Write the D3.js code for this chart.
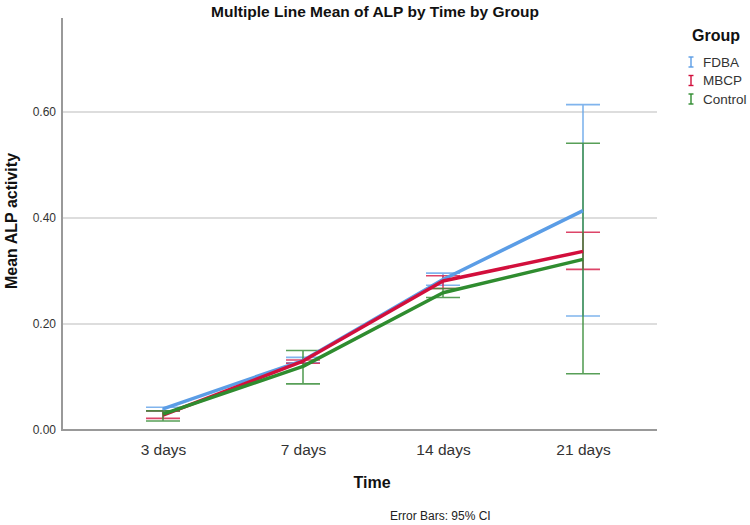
<!DOCTYPE html>
<html>
<head>
<meta charset="utf-8">
<script src="https://cdn.jsdelivr.net/npm/d3@7"></script>
<style>
  html, body { margin: 0; padding: 0; background: #fff; }
  svg { display: block; font-family: "Liberation Sans", Arial, sans-serif; }
</style>
</head>
<body>
<svg id="chart" width="750" height="525"></svg>
<script>
// ---- data ----
const categories = ["3 days", "7 days", "14 days", "21 days"];
const groups = ["FDBA", "MBCP", "Control"];
const meanFDBA    = [0.040, 0.131, 0.284, 0.414];
const meanMBCP    = [0.028, 0.130, 0.281, 0.337];
const meanControl = [0.030, 0.120, 0.259, 0.322];
const lowFDBA     = [0.036, 0.127, 0.273, 0.215];
const highFDBA    = [0.043, 0.137, 0.296, 0.614];
const lowMBCP     = [0.022, 0.126, 0.267, 0.303];
const highMBCP    = [0.036, 0.132, 0.291, 0.373];
const lowControl  = [0.017, 0.087, 0.250, 0.106];
const highControl = [0.036, 0.150, 0.267, 0.541];
const yTicks = [0, 0.2, 0.4, 0.6];

const colors = { FDBA: "#5b9de6", MBCP: "#d20f3c", Control: "#2f8c2f" };
const barColors = { FDBA: "#6aa8ea", MBCP: "#d8244e", Control: "#3b8f3b" };

const series = [
  { name: "FDBA", mean: meanFDBA, low: lowFDBA, high: highFDBA },
  { name: "MBCP", mean: meanMBCP, low: lowMBCP, high: highMBCP },
  { name: "Control", mean: meanControl, low: lowControl, high: highControl }
];

const svg = d3.select("#chart");
const plotLeft = 62, plotRight = 657, plotTop = 18, plotBottom = 430;

const x = d3.scalePoint().domain(categories).range([163, 583]);
const y = d3.scaleLinear().domain([0, 0.7774]).range([plotBottom, plotTop]);

// gridlines
svg.append("g").selectAll("line").data(yTicks.filter(d => d > 0)).join("line")
  .attr("x1", plotLeft).attr("x2", plotRight)
  .attr("y1", d => y(d)).attr("y2", d => y(d))
  .attr("stroke", "#d2d2d2").attr("stroke-width", 1.5);

// y axis
const yAxis = d3.axisLeft(y).tickValues(yTicks).tickFormat(d3.format(".2f")).tickSize(0).tickPadding(6);
const gy = svg.append("g").attr("transform", `translate(${plotLeft},0)`).call(yAxis);
gy.select(".domain").remove();
gy.selectAll("text").attr("font-size", 12).attr("fill", "#333")
  .attr("font-family", "Liberation Sans, Arial, sans-serif");
svg.append("line").attr("x1", plotLeft).attr("x2", plotLeft)
  .attr("y1", plotTop).attr("y2", plotBottom + 1)
  .attr("stroke", "#999").attr("stroke-width", 2);

// x axis
const xAxis = d3.axisBottom(x).tickSize(0).tickPadding(14);
const gx = svg.append("g").attr("transform", `translate(0,${plotBottom})`).call(xAxis);
gx.select(".domain").remove();
gx.selectAll("text").attr("font-size", 15.5).attr("fill", "#333")
  .attr("font-family", "Liberation Sans, Arial, sans-serif");
svg.append("line").attr("x1", plotLeft - 1).attr("x2", plotRight)
  .attr("y1", plotBottom).attr("y2", plotBottom)
  .attr("stroke", "#999").attr("stroke-width", 2);

// error bars
const capHalf = 17;
series.forEach(s => {
  const g = svg.append("g").attr("stroke", barColors[s.name]).attr("stroke-width", 1.6).attr("opacity", 0.85);
  categories.forEach((c, i) => {
    const cx = x(c);
    g.append("line").attr("x1", cx).attr("x2", cx).attr("y1", y(s.low[i])).attr("y2", y(s.high[i]));
    g.append("line").attr("x1", cx - capHalf).attr("x2", cx + capHalf).attr("y1", y(s.low[i])).attr("y2", y(s.low[i]));
    g.append("line").attr("x1", cx - capHalf).attr("x2", cx + capHalf).attr("y1", y(s.high[i])).attr("y2", y(s.high[i]));
  });
});

// mean lines
const line = d3.line().x((d, i) => x(categories[i])).y(d => y(d));
series.forEach(s => {
  svg.append("path").datum(s.mean).attr("d", line)
    .attr("fill", "none").attr("stroke", colors[s.name])
    .attr("stroke-width", 3.5).attr("stroke-linejoin", "round");
});

// title
svg.append("text").attr("x", 375).attr("y", 17).attr("text-anchor", "middle")
  .attr("font-size", 15.5).attr("font-weight", "bold").attr("fill", "#111")
  .text("Multiple Line Mean of ALP by Time by Group");

// axis titles
svg.append("text").attr("transform", "translate(17,221) rotate(-90)")
  .attr("text-anchor", "middle").attr("font-size", 16).attr("font-weight", "bold").attr("fill", "#111")
  .text("Mean ALP activity");
svg.append("text").attr("x", 372).attr("y", 488).attr("text-anchor", "middle")
  .attr("font-size", 16).attr("font-weight", "bold").attr("fill", "#111")
  .text("Time");

// footnote
svg.append("text").attr("x", 390).attr("y", 520)
  .attr("font-size", 12).attr("fill", "#222")
  .text("Error Bars: 95% CI");

// legend
svg.append("text").attr("x", 692).attr("y", 41)
  .attr("font-size", 16).attr("font-weight", "bold").attr("fill", "#111")
  .text("Group");
const legendY = [62, 80.5, 99];
groups.forEach((gname, i) => {
  const cy = legendY[i];
  const lg = svg.append("g").attr("stroke", colors[gname]).attr("stroke-width", 1.4);
  lg.append("line").attr("x1", 691).attr("x2", 691).attr("y1", cy - 5).attr("y2", cy + 5);
  lg.append("line").attr("x1", 688.5).attr("x2", 693.5).attr("y1", cy - 5).attr("y2", cy - 5);
  lg.append("line").attr("x1", 688.5).attr("x2", 693.5).attr("y1", cy + 5).attr("y2", cy + 5);
  svg.append("text").attr("x", 703).attr("y", cy + 4.5)
    .attr("font-size", 13.5).attr("fill", "#333").text(gname);
});
</script>
</body>
</html>
